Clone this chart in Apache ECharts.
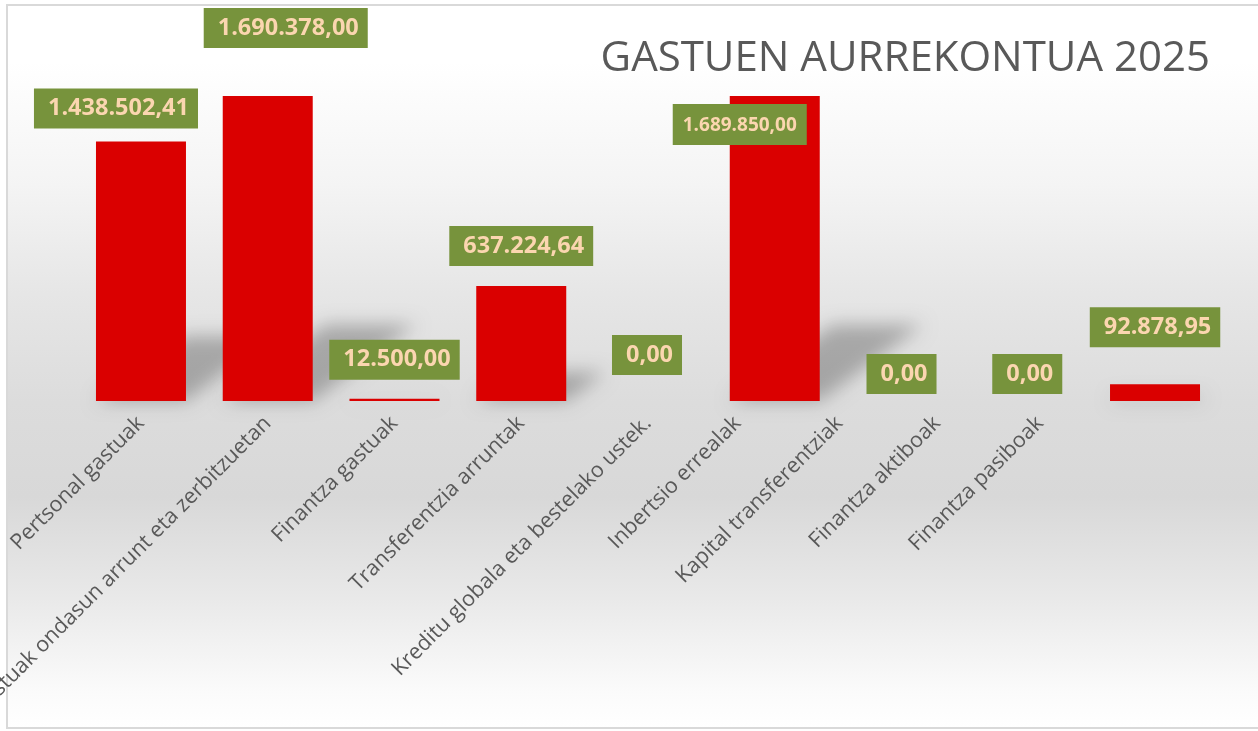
<!DOCTYPE html>
<html lang="eu">
<head>
    <meta charset="UTF-8">
    <title>Gastuen aurrekontua 2025</title>
    <style>
        html, body { margin: 0; padding: 0; background: #ffffff; }
        #main { width: 1258px; height: 731px; }
    </style>
</head>
<body>
<div id="main"></div>
<script src="https://cdn.jsdelivr.net/npm/echarts@6/dist/echarts.min.js"></script>
<script>
    // datuak
    var categories = [
        'Pertsonal gastuak',
        'Gastuak ondasun arrunt eta zerbitzuetan',
        'Finantza gastuak',
        'Transferentzia arruntak',
        'Kreditu globala eta bestelako ustek.',
        'Inbertsio errealak',
        'Kapital transferentziak',
        'Finantza aktiboak',
        'Finantza pasiboak'
    ];
    var amounts = [1438502.41, 1690378.00, 12500.00, 637224.64, 0, 1689850.00, 0, 0, 92878.95];

    // etiketen kokapena (px), ez datuak
    var labelDx = [-25, 18, 0, 0, -1, -35, 0, -1, 0];
    var labelGap = [13, 48, 19, 20, 26, -49, 7, 7, 37];
    var axisShift = [0, 0, 0, 0, 0, 37, 62, 91, 115];

    function euroFormat(v) {
        var parts = v.toFixed(2).split('.');
        parts[0] = parts[0].replace(/\B(?=(\d{3})+(?!\d))/g, '.');
        return parts[0] + ',' + parts[1];
    }

    var myChart = echarts.init(document.getElementById('main'));

    var option = {
        animation: false,
        title: {
            text: 'GASTUEN AURREKONTUA 2025',
            right: 43,
            top: 33,
            textStyle: {
                fontFamily: 'Open Sans',
                fontWeight: 'normal',
                fontSize: 42,
                color: '#595959'
            }
        },
        graphic: [{
            type: 'rect',
            z: -10,
            silent: true,
            shape: { x: 7, y: 5, width: 1262, height: 723 },
            style: {
                fill: new echarts.graphic.LinearGradient(0, 0, 0, 1, [
                    { offset: 0, color: '#ffffff' },
                    { offset: 0.08, color: '#ffffff' },
                    { offset: 0.25, color: '#f4f4f4' },
                    { offset: 0.4, color: '#e6e6e6' },
                    { offset: 0.55, color: '#dcdcdc' },
                    { offset: 0.68, color: '#d8d8d8' },
                    { offset: 0.82, color: '#e9e9e9' },
                    { offset: 0.95, color: '#fbfbfb' },
                    { offset: 1, color: '#ffffff' }
                ]),
                stroke: '#d9d9d9',
                lineWidth: 2
            }
        }],
        grid: {
            left: 77.6,
            right: 39.6,
            top: 96,
            bottom: 330,
            containLabel: false,
            outerBoundsMode: 'none'
        },
        xAxis: {
            type: 'category',
            data: categories.map(function (c, i) {
                var d = axisShift[i] * 0.707;
                var item = { value: c, textStyle: { padding: [0, d, 0, 0] } };
                if (d) {
                    // lerro hutsa + lineHeight: etiketa gora eramateko
                    item.textStyle.lineHeight = 2 * d;
                }
                return item;
            }),
            axisLine: { show: false },
            axisTick: { show: false },
            splitLine: { show: false },
            axisLabel: {
                interval: 0,
                rotate: 45,
                margin: 19,
                fontFamily: 'Open Sans',
                fontSize: 21.5,
                color: '#595959',
                formatter: function (v, idx) {
                    return axisShift[idx] ? v + '\n ' : v;
                }
            }
        },
        yAxis: {
            type: 'value',
            min: 0,
            max: 'dataMax',
            show: false,
            splitLine: { show: false }
        },
        series: [{
            // itzal perspektiba
            type: 'custom',
            z: 1,
            silent: true,
            data: amounts.map(function (v, i) { return [i, v]; }),
            renderItem: function (params, api) {
                var i = api.value(0);
                var base = api.coord([i, 0]);
                var top = api.coord([i, api.value(1)]);
                var w = api.size([1, 0])[0] * 0.71;
                var h = (base[1] - top[1]) * 0.25;
                var s = h * 1.35;
                var x0 = base[0] - w / 2 - 3000;
                var x1 = base[0] + w / 2 - 3000;
                var y0 = base[1];
                return {
                    type: 'polygon',
                    shape: {
                        points: [[x0, y0], [x1, y0], [x1 + s, y0 - h], [x0 + s, y0 - h]]
                    },
                    style: {
                        fill: '#000',
                        shadowColor: 'rgba(0,0,0,0.26)',
                        shadowBlur: 18,
                        shadowOffsetX: 3000,
                        shadowOffsetY: 0
                    }
                };
            }
        }, {
            name: 'Gastuak',
            type: 'bar',
            z: 2,
            barWidth: '71%',
            data: amounts.map(function (v, i) {
                var big = i === 5;
                return {
                    value: v,
                    label: {
                        offset: [labelDx[i], -labelGap[i]],
                        fontSize: big ? 19 : 23.5,
                        padding: big ? [9, 10, 8, 10] : [8, 9, 8, 14]
                    }
                };
            }),
            itemStyle: {
                color: '#da0000'
            },
            label: {
                show: true,
                position: 'top',
                distance: 0,
                formatter: function (p) { return euroFormat(p.value); },
                backgroundColor: '#77933c',
                color: '#fbd6b0',
                fontFamily: 'Open Sans',
                fontWeight: 'bold',
                fontSize: 23.5,
                lineHeight: 24
            }
        }]
    };

    myChart.setOption(option);
</script>
</body>
</html>
